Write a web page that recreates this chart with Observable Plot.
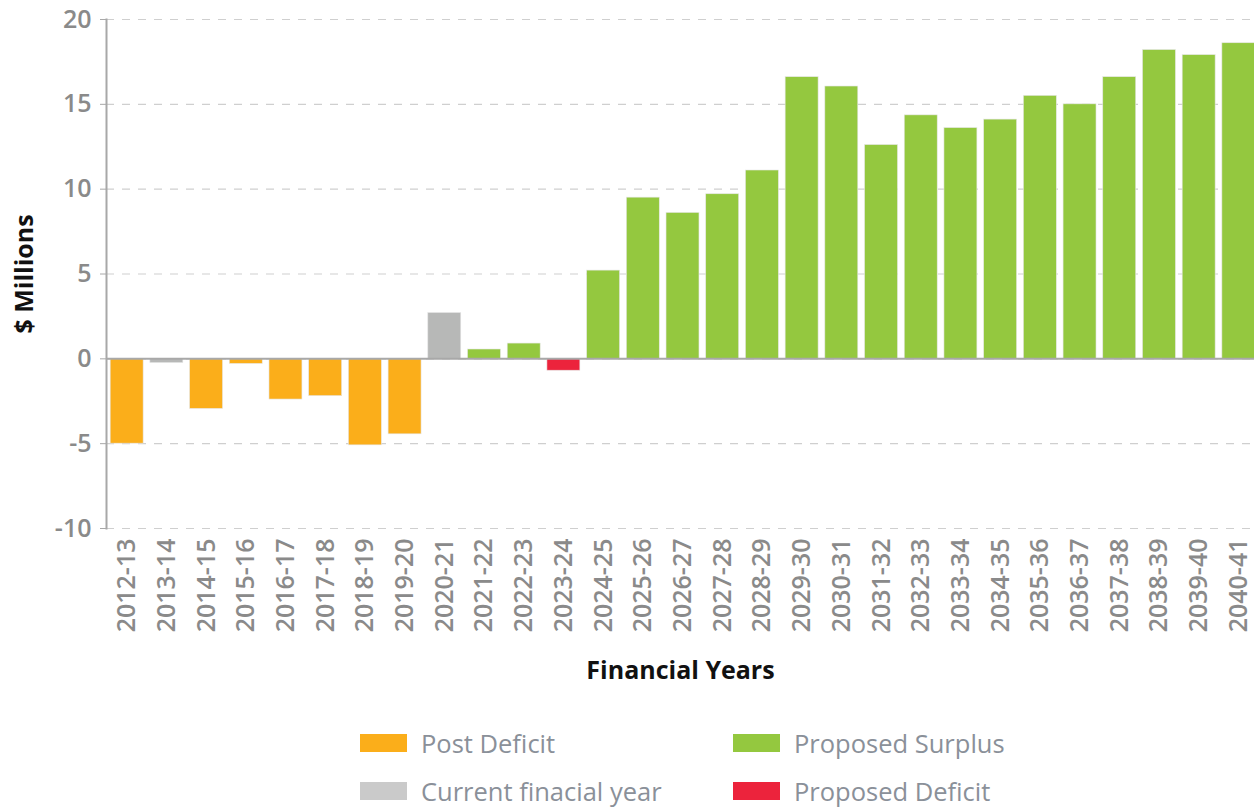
<!DOCTYPE html>
<html>
<head>
<meta charset="utf-8">
<script src="https://cdn.jsdelivr.net/npm/d3@7"></script>
<script src="https://cdn.jsdelivr.net/npm/@observablehq/plot@0.6"></script>
<style>
  body { margin: 0; background: #fff; font-family: "Open Sans", sans-serif; overflow: hidden; }
  #chart svg { display: block; }
  .legend { position: relative; width: 1254px; height: 103px; }
  .item { position: absolute; display: flex; align-items: center; font-size: 25.5px; line-height: 30px; color: #8a9099; white-space: nowrap; }
  .sw { width: 47px; height: 18px; margin-right: 14px; }
</style>
</head>
<body>
<div id="chart"></div>
<div class="legend" id="legend"></div>
<script>
const years = ["2012-13","2013-14","2014-15","2015-16","2016-17","2017-18","2018-19","2019-20","2020-21","2021-22","2022-23","2023-24","2024-25","2025-26","2026-27","2027-28","2028-29","2029-30","2030-31","2031-32","2032-33","2033-34","2034-35","2035-36","2036-37","2037-38","2038-39","2039-40","2040-41"];
const values = [-5.0,-0.25,-2.95,-0.3,-2.4,-2.2,-5.1,-4.45,2.7,0.55,0.9,-0.7,5.2,9.5,8.6,9.7,11.1,16.6,16.05,12.6,14.35,13.6,14.1,15.5,15.0,16.6,18.2,17.9,18.6];
const types = ["Post Deficit","Current finacial year","Post Deficit","Post Deficit","Post Deficit","Post Deficit","Post Deficit","Post Deficit","Current finacial year","Proposed Surplus","Proposed Surplus","Proposed Deficit","Proposed Surplus","Proposed Surplus","Proposed Surplus","Proposed Surplus","Proposed Surplus","Proposed Surplus","Proposed Surplus","Proposed Surplus","Proposed Surplus","Proposed Surplus","Proposed Surplus","Proposed Surplus","Proposed Surplus","Proposed Surplus","Proposed Surplus","Proposed Surplus","Proposed Surplus"];
const yTicks = [-10,-5,0,5,10,15,20];
const legendNames = ["Post Deficit","Proposed Surplus","Current finacial year","Proposed Deficit"];
const legendColors = ["#FBAE1A","#94C83F","#CACACA","#EC233C"];
const typeDomain = ["Post Deficit","Current finacial year","Proposed Surplus","Proposed Deficit"];
const typeColors = ["#FBAE1A","#B7B8B7","#94C83F","#EC233C"];

const data = years.map((y, i) => ({year: y, value: values[i], type: types[i]}));

const chart = Plot.plot({
  width: 1254,
  height: 705,
  marginLeft: 106,
  marginRight: 0,
  marginTop: 19,
  marginBottom: 177,
  style: {fontFamily: "'Open Sans', sans-serif", background: "#fff"},
  x: {type: "band", domain: years, range: [106, 1259], round: false, paddingInner: 0.17, paddingOuter: 0.105},
  y: {domain: [-10, 20]},
  color: {domain: typeDomain, range: typeColors},
  marks: [
    Plot.gridY(yTicks, {stroke: "#cfcfcf", strokeOpacity: 1, strokeDasharray: "8,8", strokeWidth: 1.2}),
    Plot.barY(data, {x: "year", y: "value", fill: "type", stroke: "#e6e6e6", strokeWidth: 0.6}),
    Plot.ruleY([0], {stroke: "#a8a8a8", strokeWidth: 2}),
    Plot.frame({anchor: "left", stroke: "#a8a8a8", strokeWidth: 2}),
    Plot.axisY(yTicks, {tickSize: 6, tickPadding: 9, fontSize: 25, fontWeight: 600, fill: "#8a8a8a", stroke: "#a8a8a8", label: null, tickFormat: d => String(d)}),
    Plot.axisX({tickSize: 0, tickPadding: 10, tickRotate: -90, fontSize: 25, fontWeight: 600, fill: "#8a8a8a", label: null}),
    Plot.text(["Financial Years"], {frameAnchor: "bottom", dy: 150, fontSize: 25, fontWeight: 700, fill: "#111"}),
    Plot.text(["$ Millions"], {frameAnchor: "left", dx: -82, rotate: -90, textAnchor: "middle", fontSize: 25, fontWeight: 700, fill: "#111"})
  ]
});
document.getElementById("chart").appendChild(chart);

const legend = document.getElementById("legend");
const pos = [[360, 38], [733, 38], [360, 86], [733, 86]];
legendNames.forEach((n, i) => {
  const d = document.createElement("div");
  d.className = "item";
  d.style.left = pos[i][0] + "px";
  d.style.top = (pos[i][1] - 15) + "px";
  d.innerHTML = `<div class="sw" style="background:${legendColors[i]}"></div><span>${n}</span>`;
  legend.appendChild(d);
});
</script>
</body>
</html>
